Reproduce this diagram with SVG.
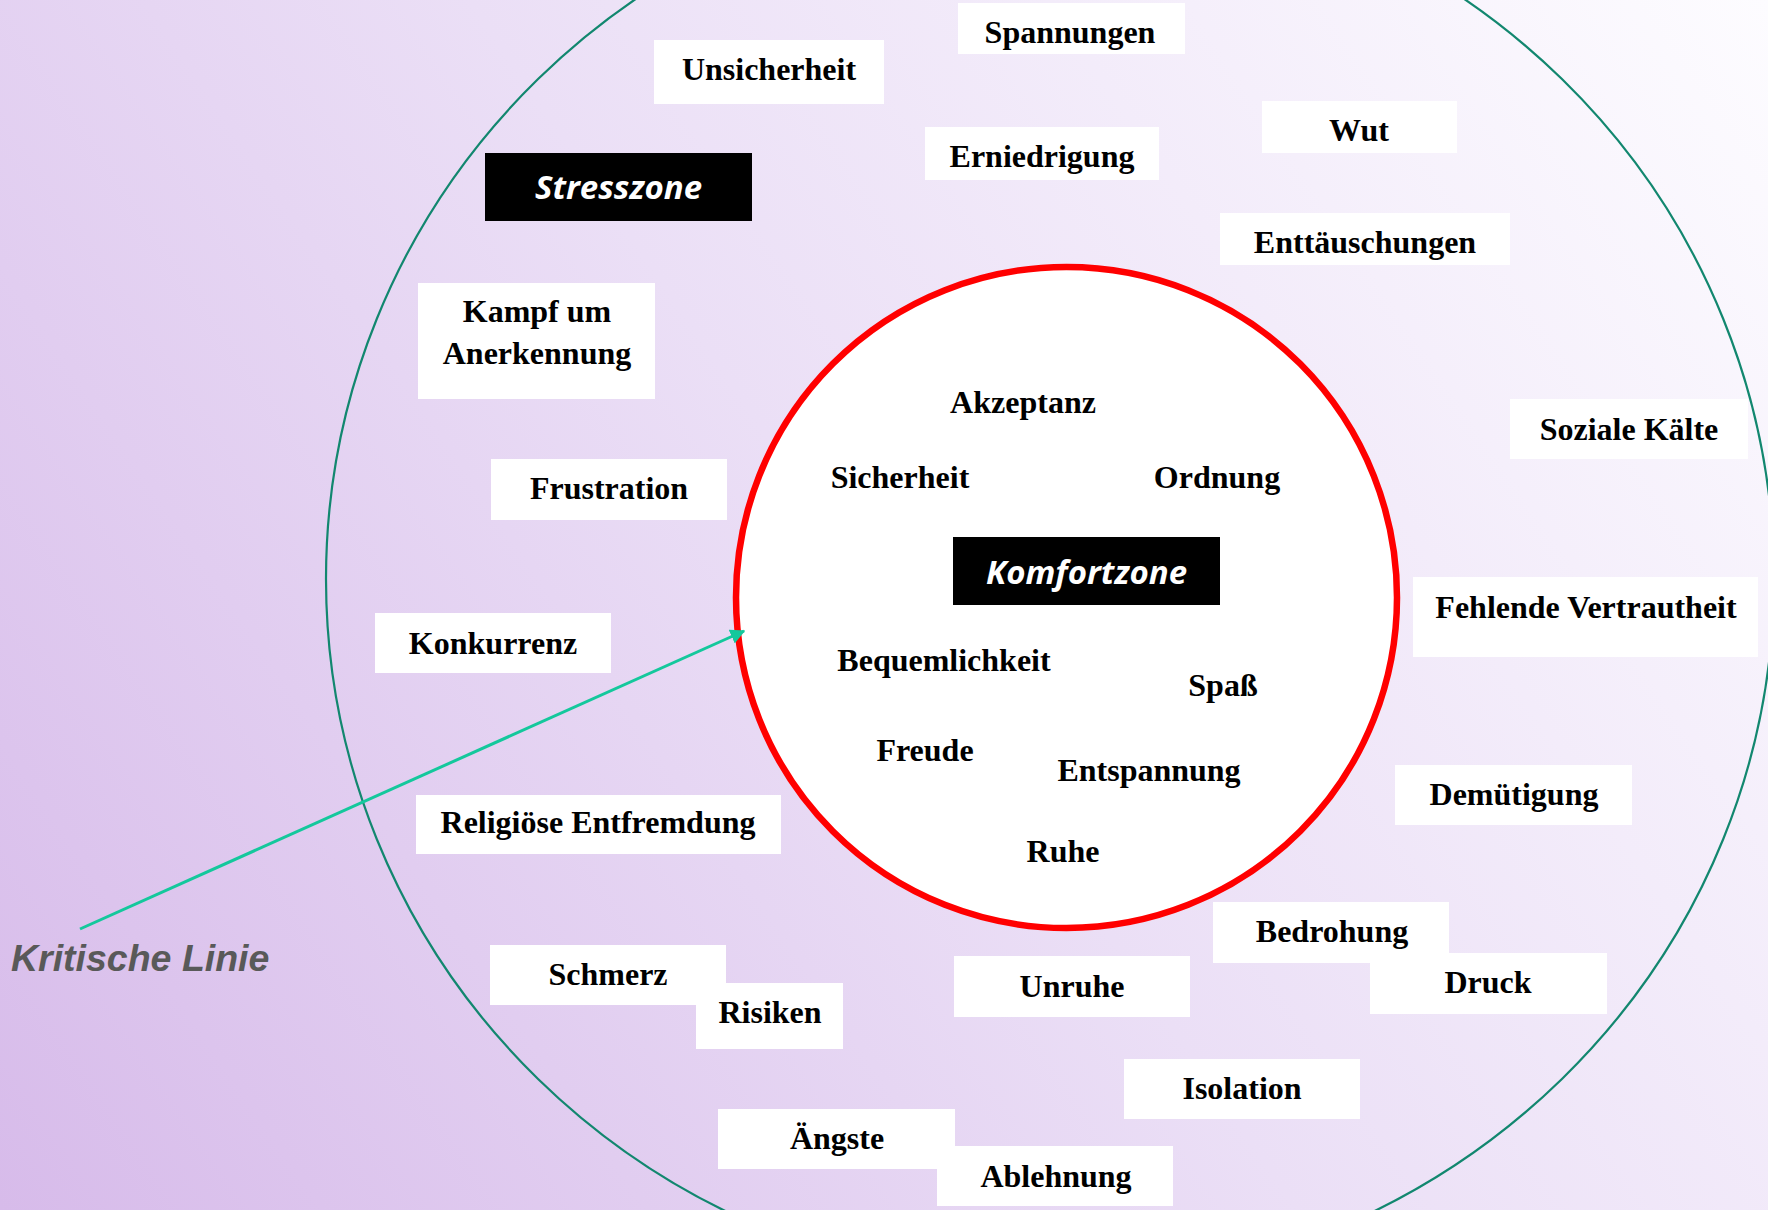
<svg xmlns="http://www.w3.org/2000/svg" width="1768" height="1210" viewBox="0 0 1768 1210">
  <defs>
    <linearGradient id="bg" gradientUnits="userSpaceOnUse" x1="0" y1="1210" x2="1768" y2="0">
      <stop offset="0" stop-color="#d7bbea"/>
      <stop offset="0.5" stop-color="#ebdff6"/>
      <stop offset="1" stop-color="#fdfcff"/>
    </linearGradient>
    <marker id="arrow" viewBox="0 0 10 10" markerWidth="5" markerHeight="5" refX="9" refY="5" orient="auto" markerUnits="strokeWidth">
      <path d="M0,0 L10,5 L0,10 z" fill="#14c89c"/>
    </marker>
    <style>
      .box { fill: #ffffff; }
      .lbl { font-family: "Liberation Serif", "Times New Roman", serif; font-weight: bold; font-size: 32px; fill: #000000; text-anchor: middle; }
      .zone { fill: #000000; }
      .zlbl { font-family: "Open Sans", "Noto Sans", sans-serif; font-weight: bold; font-style: italic; font-size: 33px; fill: #ffffff; text-anchor: middle; }
      .crit { font-family: "Liberation Sans", Arial, sans-serif; font-weight: bold; font-style: italic; font-size: 37.5px; fill: #595959; }
    </style>
  </defs>

  <rect x="0" y="0" width="1768" height="1210" fill="url(#bg)"/>

  <g id="stresszone-ring">
    <ellipse cx="1050" cy="579" rx="724" ry="707" fill="none" stroke="#12876f" stroke-width="2.2"/>
  </g>
  <g id="komfortzone-ring">
    <circle cx="1066.5" cy="597.5" r="330.5" fill="#ffffff" stroke="#ff0000" stroke-width="6.5"/>
  </g>

  <g id="connectors">
    <line x1="80" y1="929" x2="744" y2="631" stroke="#14c89c" stroke-width="3" marker-end="url(#arrow)"/>
  </g>

  <g id="stresszone">
    <rect class="zone" x="485" y="153" width="267" height="68"/>
    <text class="zlbl" x="618.5" y="199">Stresszone</text>
  </g>
  <g id="komfortzone">
    <rect class="zone" x="953" y="537" width="267" height="68"/>
    <text class="zlbl" x="1086.5" y="584">Komfortzone</text>
  </g>

  <g id="kritische-linie">
    <text class="crit" x="11" y="971">Kritische Linie</text>
  </g>

  <!-- Inner comfort zone words -->
  <g id="akzeptanz"><text class="lbl" x="1023" y="413">Akzeptanz</text></g>
  <g id="sicherheit"><text class="lbl" x="900" y="488">Sicherheit</text></g>
  <g id="ordnung"><text class="lbl" x="1217" y="488">Ordnung</text></g>
  <g id="bequemlichkeit"><text class="lbl" x="944" y="671">Bequemlichkeit</text></g>
  <g id="spass"><text class="lbl" x="1223" y="696">Spaß</text></g>
  <g id="freude"><text class="lbl" x="925" y="761">Freude</text></g>
  <g id="entspannung"><text class="lbl" x="1149" y="781">Entspannung</text></g>
  <g id="ruhe"><text class="lbl" x="1063" y="862">Ruhe</text></g>

  <!-- Stress zone words -->
  <g id="spannungen">
    <rect class="box" x="958" y="3" width="227" height="51"/>
    <text class="lbl" x="1070" y="43">Spannungen</text>
  </g>
  <g id="unsicherheit">
    <rect class="box" x="654" y="40" width="230" height="64"/>
    <text class="lbl" x="769" y="80">Unsicherheit</text>
  </g>
  <g id="wut">
    <rect class="box" x="1262" y="101" width="195" height="52"/>
    <text class="lbl" x="1359" y="141">Wut</text>
  </g>
  <g id="erniedrigung">
    <rect class="box" x="925" y="127" width="234" height="53"/>
    <text class="lbl" x="1042" y="167">Erniedrigung</text>
  </g>
  <g id="enttaeuschungen">
    <rect class="box" x="1220" y="213" width="290" height="52"/>
    <text class="lbl" x="1365" y="253">Enttäuschungen</text>
  </g>
  <g id="kampf-um-anerkennung">
    <rect class="box" x="418" y="283" width="237" height="116"/>
    <text class="lbl" x="537" y="322">Kampf um</text>
    <text class="lbl" x="537" y="364">Anerkennung</text>
  </g>
  <g id="soziale-kaelte">
    <rect class="box" x="1510" y="399" width="238" height="60"/>
    <text class="lbl" x="1629" y="440">Soziale Kälte</text>
  </g>
  <g id="frustration">
    <rect class="box" x="491" y="459" width="236" height="61"/>
    <text class="lbl" x="609" y="499">Frustration</text>
  </g>
  <g id="fehlende-vertrautheit">
    <rect class="box" x="1413" y="577" width="345" height="80"/>
    <text class="lbl" x="1586" y="618">Fehlende Vertrautheit</text>
  </g>
  <g id="konkurrenz">
    <rect class="box" x="375" y="613" width="236" height="60"/>
    <text class="lbl" x="493" y="654">Konkurrenz</text>
  </g>
  <g id="demuetigung">
    <rect class="box" x="1395" y="765" width="237" height="60"/>
    <text class="lbl" x="1514" y="805">Demütigung</text>
  </g>
  <g id="religioese-entfremdung">
    <rect class="box" x="416" y="795" width="365" height="59"/>
    <text class="lbl" x="598" y="833">Religiöse Entfremdung</text>
  </g>
  <g id="bedrohung">
    <rect class="box" x="1213" y="902" width="236" height="61"/>
    <text class="lbl" x="1332" y="942">Bedrohung</text>
  </g>
  <g id="schmerz">
    <rect class="box" x="490" y="945" width="236" height="60"/>
    <text class="lbl" x="608" y="985">Schmerz</text>
  </g>
  <g id="druck">
    <rect class="box" x="1370" y="953" width="237" height="61"/>
    <text class="lbl" x="1488" y="993">Druck</text>
  </g>
  <g id="unruhe">
    <rect class="box" x="954" y="956" width="236" height="61"/>
    <text class="lbl" x="1072" y="997">Unruhe</text>
  </g>
  <g id="risiken">
    <rect class="box" x="696" y="983" width="147" height="66"/>
    <text class="lbl" x="770" y="1023">Risiken</text>
  </g>
  <g id="isolation">
    <rect class="box" x="1124" y="1059" width="236" height="60"/>
    <text class="lbl" x="1242" y="1099">Isolation</text>
  </g>
  <g id="aengste">
    <rect class="box" x="718" y="1109" width="237" height="60"/>
    <text class="lbl" x="837" y="1149">Ängste</text>
  </g>
  <g id="ablehnung">
    <rect class="box" x="937" y="1146" width="236" height="60"/>
    <text class="lbl" x="1056" y="1187">Ablehnung</text>
  </g>
</svg>
